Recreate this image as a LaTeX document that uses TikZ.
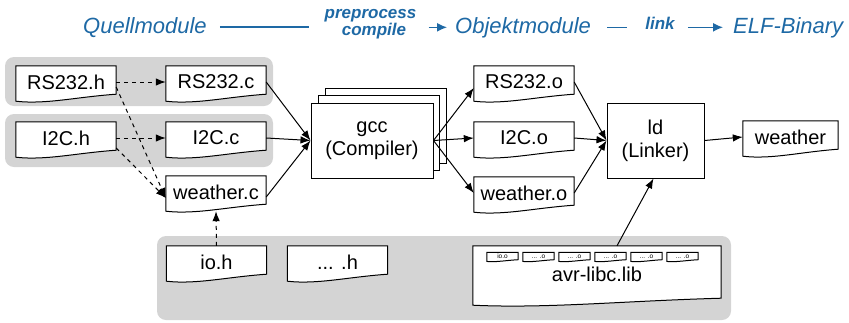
\documentclass[tikz,border=0pt]{standalone}
\usepackage{fontspec}
\setmainfont{Liberation Sans}
\usetikzlibrary{arrows.meta,calc,backgrounds}
\definecolor{tblue}{RGB}{30,105,165}
\definecolor{grpgray}{RGB}{212,212,212}
\newcommand\docframe[2]{%
 \begin{pgfonlayer}{background}
 \draw[docline] ([yshift={-0.75*#2pt}]#1.south west) -- (#1.north west) -- (#1.north east) -- ([yshift={#2pt}]#1.south east)
  .. controls ($(#1.south east)!0.4!(#1.south west)+(0pt,{0.3*#2pt})$) and ($(#1.south east)!0.7!(#1.south west)+(0pt,{-1.6*#2pt})$) .. ([yshift={-0.75*#2pt}]#1.south west) -- cycle;
 \end{pgfonlayer}}
\begin{document}
\begin{tikzpicture}[x=1pt,y=-1pt,
  doc/.style={minimum width=100pt, minimum height=32pt, inner sep=0pt, font=\fontsize{20}{23}\selectfont},
  minidoc/.style={minimum width=31pt, minimum height=8pt, inner sep=0pt, font=\fontsize{6.5}{7}\selectfont},
  docline/.style={draw=black, line width=1pt, fill=white},
  proc/.style={draw=black, fill=white, line width=1pt, align=center, inner sep=0pt, font=\fontsize{20}{23}\selectfont},
  grp/.style={fill=grpgray, rounded corners=9pt},
  dep/.style={line width=1pt, dash pattern=on 4pt off 4pt, -{Latex[length=10pt,width=7.5pt]}},
  flow/.style={line width=1pt, -{Latex[length=10pt,width=7.5pt]}},
  ttl/.style={inner sep=0pt, text=tblue, font=\fontsize{22}{26}\selectfont\itshape},
  tsub/.style={inner sep=0pt, text=tblue, font=\fontsize{17}{18}\selectfont\bfseries\itshape},
  tline/.style={draw=tblue, line width=1.3pt},
  tarrow/.style={tline, -{Latex[length=10pt,width=9pt]}}]
\useasboundingbox (0,0) rectangle (849,322);
\begin{pgfonlayer}{background}
\fill[grp] (5,57) rectangle (273,106);
\fill[grp] (5,114) rectangle (273,167);
\fill[grp] (157,236) rectangle (731,320);
\end{pgfonlayer}
% title row
\node[ttl, anchor=base west] (quell) at (83,33) {Quellmodule};
\node[ttl, anchor=base west] (obj) at (455,33) {Objektmodule};
\node[ttl, anchor=base west] (elf) at (733,33) {ELF-Binary};
\node[tsub, anchor=base] (pp) at (370.5,18) {preprocess};
\node[tsub, anchor=base] (cp) at (374,35) {compile};
\node[tsub, anchor=base] (lk) at (660,29) {link};
\draw[tline] ([xshift=13pt]quell.east) -- ([xshift=-15pt]pp.west |- quell.east);
\draw[tarrow] ([xshift=12pt]pp.east |- obj.west) -- ([xshift=-8pt]obj.west);
\draw[tline] ([xshift=16pt]obj.east) -- ([xshift=-18pt]lk.west |- obj.east);
\draw[tarrow] ([xshift=13pt]lk.east |- elf.west) -- ([xshift=-10pt]elf.west);
% source documents
\node[doc] (rsh) at (66,82) {RS232.h};
\docframe{rsh}{4}
\node[doc] (rsc) at (216,82) {RS232.c};
\docframe{rsc}{4}
\node[doc] (ich) at (66,138) {I2C.h};
\docframe{ich}{4}
\node[doc] (icc) at (216,138) {I2C.c};
\docframe{icc}{4}
\node[doc] (wc) at (216,192) {weather.c};
\docframe{wc}{4}
\node[doc] (ioh) at (216.5,262) {io.h};
\docframe{ioh}{4}
\node[doc] (dh) at (337.5,262) {... .h};
\docframe{dh}{4}
% object documents
\node[doc] (rso) at (524,82) {RS232.o};
\docframe{rso}{4}
\node[doc] (ico) at (524,138) {I2C.o};
\docframe{ico}{4}
\node[doc] (wo) at (524,193) {weather.o};
\docframe{wo}{4}
\node[doc, minimum width=95pt] (w) at (790.5,137) {weather};
\docframe{w}{4}
% library
\node[doc, minimum width=248pt, minimum height=56pt] (lib) at (597,274) {\raisebox{-5pt}{avr-libc.lib}};
\docframe{lib}{4}
\node[minidoc] (l1) at (502.5,256.5) {io.o};
\docframe{l1}{1}
\node[minidoc] (l2) at (538.5,256.5) {... .o};
\docframe{l2}{1}
\node[minidoc] (l3) at (574.5,256.5) {... .o};
\docframe{l3}{1}
\node[minidoc] (l4) at (610.5,256.5) {... .o};
\docframe{l4}{1}
\node[minidoc] (l5) at (646.5,256.5) {... .o};
\docframe{l5}{1}
\node[minidoc] (l6) at (682.5,256.5) {... .o};
\docframe{l6}{1}
% tools
\node[proc, minimum width=121pt, minimum height=75pt] (gccb2) at (385.5,125.5) {};
\node[proc, minimum width=121pt, minimum height=75pt] (gccb1) at (378.5,133) {};
\node[proc, minimum width=122pt, minimum height=75pt] (gcc) at (372,140.5) {gcc\\(Compiler)};
\node[proc, minimum width=97pt, minimum height=75pt] (ld) at (655.5,140.5) {ld\\(Linker)};
% dependencies
\draw[dep] (rsh.east) -- (rsc.west);
\draw[dep] (ich.east) -- (icc.west);
\draw[dep] ([yshift=-5pt]rsh.east) -- ([yshift=-6pt]wc.west);
\draw[dep] ([yshift=-10pt]ich.east) -- ([yshift=-6pt]wc.west);
\draw[dep] (ioh.north) -- ([yshift=-3pt]wc.south);
% flow
\draw[flow] (rsc.east) -- (gcc.west);
\draw[flow] (icc.east) -- (gcc.west);
\draw[flow] ([yshift=-5pt]wc.east) -- (gcc.west);
\draw[flow] (gcc.east) -- ([yshift=-6pt]rso.west);
\draw[flow] (gcc.east) -- (ico.west);
\draw[flow] (gcc.east) -- (wo.west);
\draw[flow] (rso.east) -- (ld.west);
\draw[flow] (ico.east) -- (ld.west);
\draw[flow] (wo.east) -- (ld.west);
\draw[flow] (ld.east) -- (w.west);
\draw[flow] ([xshift=20pt]lib.north) -- ([xshift=-2pt]ld.south);
\end{tikzpicture}
\end{document}
